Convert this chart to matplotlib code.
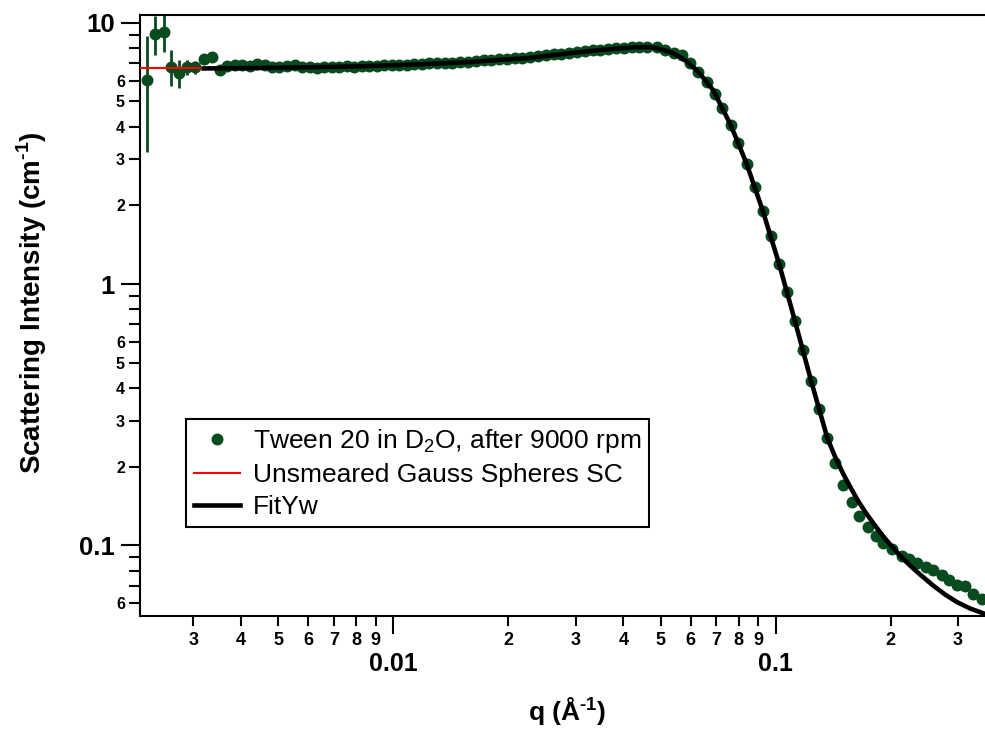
import matplotlib
matplotlib.use('Agg')
import matplotlib.pyplot as plt

plt.rcParams['font.family'] = ['Liberation Sans', 'DejaVu Sans']
plt.rcParams['mathtext.fontset'] = 'custom'
plt.rcParams['mathtext.rm'] = 'Liberation Sans'
plt.rcParams['mathtext.bf'] = 'Liberation Sans:bold'

### low-q points with visible error bars
q_low = [0.002275, 0.002388, 0.002517, 0.00263, 0.002748, 0.002897, 0.003027, 0.00320, 0.003357]
I_low = [6.04, 9.05, 9.24, 6.79, 6.40, 6.75, 6.75, 7.24, 7.37]
err_low = [2.83, 1.53, 1.50, 1.05, 0.80, 0.45, 0.38, 0.15, 0.15]

### rest of the measured data
q_data = [0.00352, 0.00368, 0.00385, 0.00403, 0.00421, 0.00441, 0.00461, 0.00482, 0.00504, 0.00527,
          0.00552, 0.00577, 0.00604, 0.00631, 0.00660, 0.00691, 0.00723, 0.00756, 0.00791, 0.00827,
          0.00866, 0.00906, 0.00948, 0.00992, 0.01038, 0.01086, 0.01136, 0.01188, 0.01243, 0.01300,
          0.01362, 0.01428, 0.01496, 0.01568, 0.01643, 0.01722, 0.01805, 0.01892, 0.01982, 0.02078,
          0.02177, 0.02282, 0.02391, 0.02506, 0.02627, 0.02753, 0.02885, 0.03023, 0.03168, 0.03320,
          0.03480, 0.03647, 0.03822, 0.04005, 0.04198, 0.04399, 0.04620, 0.04895, 0.05144, 0.05406,
          0.05679, 0.05970, 0.06276, 0.06602, 0.06945, 0.0725, 0.0763, 0.0799, 0.0840, 0.0883,
          0.0925, 0.0971, 0.1021, 0.1069, 0.1124, 0.1182, 0.1238, 0.1301, 0.1365, 0.1430,
          0.1498, 0.1582, 0.1656, 0.1742, 0.1831, 0.1913, 0.2013, 0.2138, 0.2238, 0.2349,
          0.2475, 0.2586, 0.2720, 0.2848, 0.2978, 0.3130, 0.3291, 0.3463]
I_data = [6.60, 6.80, 6.86, 6.86, 6.83, 6.95, 6.89, 6.77, 6.77, 6.83,
          6.86, 6.74, 6.77, 6.71, 6.74, 6.77, 6.77, 6.80, 6.77, 6.80,
          6.83, 6.83, 6.86, 6.86, 6.89, 6.89, 6.92, 6.95, 6.98, 6.98,
          7.01, 7.04, 7.07, 7.10, 7.13, 7.17, 7.20, 7.23, 7.26, 7.30,
          7.33, 7.36, 7.43, 7.49, 7.56, 7.59, 7.66, 7.73, 7.76, 7.83,
          7.86, 7.93, 7.97, 8.00, 8.04, 8.07, 8.07, 8.04, 7.86, 7.66,
          7.52, 6.99, 6.50, 5.95, 5.34, 4.71, 4.06, 3.46, 2.88, 2.36,
          1.91, 1.52, 1.194, 0.931, 0.719, 0.557, 0.426, 0.332, 0.2575, 0.2072,
          0.1707, 0.1466, 0.1299, 0.1176, 0.1089, 0.1021, 0.0969, 0.0913, 0.0887, 0.0856,
          0.0827, 0.0803, 0.0773, 0.0739, 0.0708, 0.0697, 0.0654, 0.0624]

### smeared fit (FitYw)
q_fit = [0.003195, 0.003518, 0.004477, 0.006050, 0.008178, 0.01174, 0.01586, 0.01901, 0.02277, 0.02846,
         0.03472, 0.04236, 0.04692, 0.04895, 0.05135, 0.05390, 0.05623, 0.05864, 0.06081, 0.06342,
         0.06615, 0.06859, 0.07228, 0.0763, 0.0840, 0.0925, 0.1021, 0.1124, 0.1238, 0.1365,
         0.1430, 0.1501, 0.1576, 0.1653, 0.1734, 0.1820, 0.1910, 0.2004, 0.2116, 0.2248,
         0.2387, 0.2581, 0.2775, 0.2983, 0.3227, 0.3532]
I_fit = [6.68, 6.69, 6.71, 6.75, 6.81, 6.93, 7.07, 7.21, 7.33, 7.62,
         7.86, 8.05, 8.07, 7.98, 7.83, 7.64, 7.39, 7.09, 6.77, 6.37,
         5.90, 5.53, 4.75, 4.06, 2.88, 1.91, 1.194, 0.719, 0.426, 0.2575,
         0.2184, 0.1880, 0.1647, 0.1457, 0.1311, 0.1190, 0.1084, 0.0997, 0.0913, 0.0836,
         0.0773, 0.0702, 0.0648, 0.0606, 0.0573, 0.0546]

### unsmeared model, only visible at the lowest q
q_red = [0.00210, 0.003195]
I_red = [6.68, 6.68]

### ticks
x_major = [0.01, 0.1]
x_major_labels = ['0.01', '0.1']
x_minor = [0.003, 0.004, 0.005, 0.006, 0.007, 0.008, 0.009,
           0.02, 0.03, 0.04, 0.05, 0.06, 0.07, 0.08, 0.09, 0.2, 0.3]
x_minor_labels = ['3', '4', '5', '6', '7', '8', '9',
                  '2', '3', '4', '5', '6', '7', '8', '9', '2', '3']
y_major = [0.1, 1, 10]
y_major_labels = ['0.1', '1', '10']
y_minor = [0.06, 0.07, 0.08, 0.09, 0.2, 0.3, 0.4, 0.5, 0.6, 0.7, 0.8, 0.9,
           2, 3, 4, 5, 6, 7, 8, 9]
y_minor_labels = ['6', '', '', '', '2', '3', '4', '5', '6', '', '', '',
                  '2', '3', '4', '5', '6', '', '', '']

green = '#084b1e'

fig = plt.figure(figsize=(9.85, 7.33), dpi=100)
ax = fig.add_axes([139.5 / 985, 1 - 615.7 / 733, 847.5 / 985, 600.7 / 733])

ax.errorbar(q_low, I_low, yerr=err_low, fmt='none', ecolor=green, elinewidth=2, capsize=0, zorder=1)
ax.plot(q_low + q_data, I_low + I_data, 'o', color=green, markersize=8.6, markeredgewidth=0,
        label='Tween 20 in D$_\\mathrm{2}$O, after 9000 rpm', zorder=2)
ax.plot(q_red, I_red, color='#ff0000', linewidth=1.5, label='Unsmeared Gauss Spheres SC', zorder=3)
ax.plot(q_fit, I_fit, color='black', linewidth=3.3, label='FitYw', zorder=4)

ax.set_xscale('log')
ax.set_yscale('log')
ax.set_xlim(0.00217, 0.357)
ax.set_ylim(0.0538, 10.7)

ax.set_xticks(x_major)
ax.set_xticklabels(x_major_labels)
ax.set_xticks(x_minor, minor=True)
ax.set_xticklabels(x_minor_labels, minor=True)
ax.set_yticks(y_major)
ax.set_yticklabels(y_major_labels)
ax.set_yticks(y_minor, minor=True)
ax.set_yticklabels(y_minor_labels, minor=True)

ax.tick_params(which='both', direction='out', width=1.5, colors='black')
ax.tick_params(axis='y', which='major', length=14, pad=4, labelsize=18.5)
ax.tick_params(axis='y', which='minor', length=8, pad=2.5, labelsize=11.5)
ax.tick_params(axis='x', which='major', length=13, pad=13, labelsize=18)
ax.tick_params(axis='x', which='minor', length=7.5, pad=4.5, labelsize=13)
for lab in ax.get_xticklabels(which='both') + ax.get_yticklabels(which='both'):
    lab.set_fontweight('bold')
ax.tick_params(top=False, right=False)
for sp in ax.spines.values():
    sp.set_linewidth(1.5)

fig.text(32 / 985, 1 - 303 / 733, 'Scattering Intensity (cm$^{\\mathbf{\u20101}}$)', rotation=90,
         ha='center', va='center', fontsize=20, fontweight='bold')
fig.text(567 / 985, 1 - 712 / 733, 'q (\u00c5$^{\\mathbf{\u20101}}$)',
         ha='center', va='center', fontsize=19, fontweight='bold')

leg = ax.legend(loc='upper left', bbox_to_anchor=((185.7 - 139.5) / 847.5, (615.7 - 419) / 600.7),
                borderaxespad=0, fancybox=False, frameon=True, edgecolor='black', framealpha=1,
                fontsize=19, numpoints=1, handlelength=1.75, handletextpad=0.5,
                labelspacing=0.3, borderpad=0.3)
leg.get_frame().set_linewidth(1.5)

fig.savefig('out.png', dpi=100)
